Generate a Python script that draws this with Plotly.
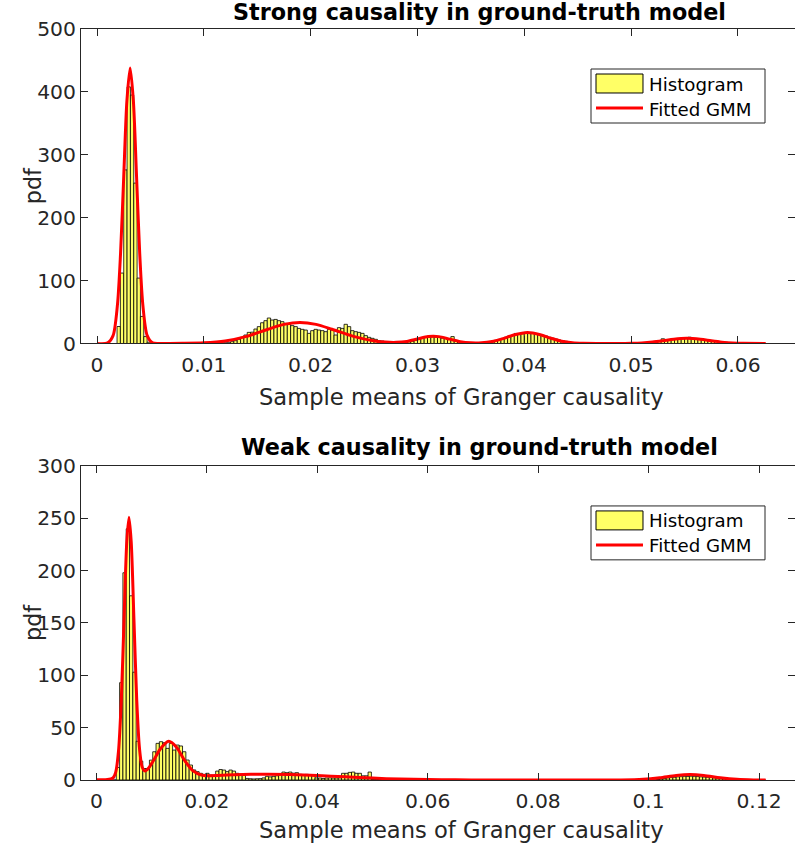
import plotly.graph_objects as go

# ---------------- data ----------------
strong_bin_width = 0.0003125
strong_pdf = ([0] * 6
              + [27, 112, 276, 408, 395, 255, 104, 43, 11, 2]
              + [0] * 17
              + [0.3, 0.5, 0.6, 0.8, 1.0, 1.2, 1.3, 2.9, 4.5, 6.6, 9.8, 13.5, 17.7, 18, 23, 26.8,
                 33, 36.3, 40.5, 37.3, 38.3, 36.3, 34.7, 32, 31, 28.4, 26.8, 24, 22.5, 21.4, 16.1,
                 20.4, 22.5, 21.4, 20.4, 18.8, 22.5, 21.4, 13.5, 25.2, 24, 30.5, 26.8, 20.4, 18.8,
                 17.7, 16.1, 12.5, 9.8, 8.2, 6.6, 4.5, 4, 2.4]
              + [1.5, 1, 1, 0.8, 1, 1.5, 2.5, 3.5, 5, 6.5, 8, 9.5, 10, 10.5, 10, 9.5, 8.5, 8, 7,
                 11, 4, 3, 2, 1.5, 1, 0.8, 0.8, 1, 1.5, 2, 3, 4, 5, 6.5, 8, 10, 12, 13, 16, 15,
                 15.5, 16, 17, 16, 15, 14, 13, 12, 10, 8.5, 7, 5.5, 4.5, 3.5, 2.5, 1.5, 1]
              + [0] * 20
              + [1, 1.5, 2, 3, 3.5, 7.5, 5, 6, 6.5, 7, 7.5, 8, 8, 10, 8, 7.5, 7, 6.5, 5.5, 5, 4,
                 3.5, 3, 2.5, 2, 1.5, 1, 0.8, 0.5, 0.3, 0.2, 0.2, 0.1, 0.1, 0, 0])

strong_curve_x = [0.0, 0.0010, 0.0015, 0.0019, 0.0022, 0.0025, 0.0028, 0.0031, 0.0034, 0.0037,
                  0.0040, 0.0043, 0.0047, 0.0052, 0.0060, 0.0080, 0.0100, 0.0120, 0.0140, 0.0160,
                  0.0175, 0.0190, 0.0205, 0.0220, 0.0240, 0.0260, 0.0270, 0.0280, 0.0290, 0.0300,
                  0.0310, 0.0315, 0.0320, 0.0330, 0.0340, 0.0350, 0.0360, 0.0370, 0.0380, 0.0390,
                  0.0403, 0.0415, 0.0425, 0.0435, 0.0445, 0.0455, 0.0470, 0.0490, 0.0500, 0.0510,
                  0.0520, 0.0530, 0.0540, 0.0552, 0.0565, 0.0575, 0.0585, 0.0595, 0.0605, 0.0626]
strong_curve_y = [0.0, 1.0, 12.5, 59.3, 142, 265.6, 386.5, 438, 386.5, 265.6,
                  142, 59.3, 12.5, 1.0, 0.05, 0.2, 1.0, 4.0, 11.4, 22.7,
                  30.4, 33.5, 30.4, 22.7, 11.4, 4.0, 2.2, 1.8, 3.3, 7.2,
                  11.0, 11.5, 10.9, 7.0, 2.9, 1.0, 1.1, 3.3, 7.7, 13.5,
                  17.5, 14.0, 8.3, 3.6, 1.2, 0.3, 0.05, 0.07, 0.3, 0.9,
                  2.3, 4.5, 6.9, 8.2, 6.6, 4.2, 2.1, 0.8, 0.25, 0.0]

weak_bin_width = 0.0006
weak_pdf = ([0] * 6
            + [12, 93, 198, 240, 176, 103, 37, 18, 11, 11, 19, 27, 35, 36.6, 35.6, 30.2, 35, 28.6,
               33.4, 32.5, 27, 19.1, 14.3, 9.6, 8, 6.4, 5.4, 6.4, 4.8, 4.5, 8.5, 10, 9.5, 8, 9.5,
               8.5, 6.4, 5.5, 4.5, 1.5, 1.2, 1, 1.2, 1.3, 2, 3.5, 3, 3.5, 4, 5, 7.6, 7, 7.6, 6.5,
               7, 5.4, 5, 5.4, 4.5, 4, 2, 1.9, 1.5, 1.9, 2, 1.8, 1.9, 2, 6.4, 6.4, 7.3, 7.6, 6.4,
               6.4, 4, 4, 7.6]
            + [0.4] * 13
            + [0] * 73
            + [0.5, 1, 1.5, 2, 2.3, 2.6, 3, 3.2, 3.5, 3.4, 3.6, 3.5, 3.3, 3, 2.8, 2.6, 2.3, 2,
               1.7, 1.4, 1.1, 0.9, 0.7, 0.5, 0.4, 0.3, 0.2, 0.2]
            + [0] * 5)

weak_curve_x = [0.0, 0.0020, 0.0030, 0.0035, 0.0040, 0.0045, 0.0050, 0.0055, 0.0059, 0.0063,
                0.0068, 0.0073, 0.0078, 0.0083, 0.0088, 0.0095, 0.0105, 0.0115, 0.0131, 0.0145,
                0.0160, 0.0175, 0.0190, 0.0205, 0.0220, 0.0250, 0.0280, 0.0310, 0.0350, 0.0400,
                0.0450, 0.0500, 0.0550, 0.0600, 0.0650, 0.0700, 0.0800, 0.0900, 0.0950, 0.0990,
                0.1020, 0.1050, 0.1075, 0.1100, 0.1130, 0.1160, 0.1190, 0.1212]
weak_curve_y = [0.3, 0.4, 1.9, 7.6, 27.5, 75.2, 152.3, 227.4, 251, 227.7,
                153.3, 77, 30.4, 12.2, 8.6, 11.7, 20, 29.2, 37, 31.4,
                18.5, 8.7, 4.8, 4.1, 4.3, 5.0, 5.4, 5.6, 5.3, 4.3,
                3.0, 1.8, 0.9, 0.4, 0.14, 0.04, 0.0, 0.0, 0.06, 0.7,
                2.2, 4.4, 5.2, 4.4, 2.2, 0.7, 0.12, 0.01]

strong_x_ticks = [0, 0.01, 0.02, 0.03, 0.04, 0.05, 0.06]
strong_y_ticks = [0, 100, 200, 300, 400, 500]
weak_x_ticks = [0, 0.02, 0.04, 0.06, 0.08, 0.1, 0.12]
weak_y_ticks = [0, 50, 100, 150, 200, 250, 300]

titles = ["Strong causality in ground-truth model", "Weak causality in ground-truth model"]
x_label = "Sample means of Granger causality"
y_label = "pdf"
legend_labels = ["Histogram", "Fitted GMM"]

# ---------------- styling ----------------
FONT = "DejaVu Sans"
INK = "#262626"
BAR_FILL = "#FFFF66"
CURVE = "#FF0000"

fig = go.Figure()


def add_panel(pdf, width, cx, cy, xa, ya):
    centers = [(i + 0.5) * width for i in range(len(pdf))]
    fig.add_trace(go.Bar(x=centers, y=pdf, width=width, xaxis=xa, yaxis=ya,
                         marker=dict(color=BAR_FILL, line=dict(color="black", width=0.8)),
                         name=legend_labels[0], showlegend=False, hoverinfo="skip"))
    fig.add_trace(go.Scatter(x=cx, y=cy, xaxis=xa, yaxis=ya, mode="lines",
                             line=dict(color=CURVE, width=3, shape="spline", smoothing=0.8),
                             name=legend_labels[1], showlegend=False, hoverinfo="skip"))


add_panel(strong_pdf, strong_bin_width, strong_curve_x, strong_curve_y, "x", "y")
add_panel(weak_pdf, weak_bin_width, weak_curve_x, weak_curve_y, "x2", "y2")

axis_common = dict(showline=True, linecolor=INK, linewidth=1, mirror="ticks",
                   ticks="inside", ticklen=7, tickcolor=INK, tickwidth=1,
                   showgrid=False, zeroline=False, automargin=False,
                   tickfont=dict(family=FONT, size=20.3, color=INK))

fig.update_layout(
    width=795, height=850,
    margin=dict(l=81, r=0, t=29, b=70),
    paper_bgcolor="white", plot_bgcolor="white",
    barmode="overlay", showlegend=False,
    xaxis=dict(domain=[0, 1], anchor="y", range=[-0.0015, 0.06534], tickvals=strong_x_ticks,
               ticklabelstandoff=3, **axis_common),
    yaxis=dict(domain=[0.58123, 1], anchor="x", range=[0, 500], tickvals=strong_y_ticks,
               **axis_common),
    xaxis2=dict(domain=[0, 1], anchor="y2", range=[-0.00279, 0.12652], tickvals=weak_x_ticks,
                ticklabelstandoff=3, **axis_common),
    yaxis2=dict(domain=[0, 0.41811], anchor="x2", range=[0, 300], tickvals=weak_y_ticks,
                **axis_common),
)

# titles and axis labels
PLOT_W = 714.0
for xa, ya, t, t_y, xl_y in [("x", "y", titles[0], 1.0226, -0.170),
                              ("x2", "y2", titles[1], 0.4434, -0.159)]:
    xr, yr = xa + " domain", ya + " domain"
    fig.add_annotation(text="<b>" + t + "</b>", xref="paper", yref="paper",
                       x=(479 - 81) / PLOT_W, y=t_y,
                       xanchor="center", yanchor="middle", showarrow=False,
                       font=dict(family=FONT, size=22.3, color="black"))
    fig.add_annotation(text=x_label, xref=xr, yref=yr, x=(461 - 81) / PLOT_W, y=xl_y,
                       xanchor="center", yanchor="middle", showarrow=False,
                       font=dict(family=FONT, size=22.6, color=INK))
    fig.add_annotation(text=y_label, xref=xr, yref=yr, x=(33 - 81) / PLOT_W, y=0.5,
                       textangle=-90, xanchor="center", yanchor="middle", showarrow=False,
                       font=dict(family=FONT, size=22.3, color=INK))

# legends drawn as boxes in axis-domain coordinates
for xa, ya in [("x", "y"), ("x2", "y2")]:
    xr, yr = xa + " domain", ya + " domain"
    fig.add_shape(type="rect", xref=xr, yref=yr, x0=0.7143, x1=0.958, y0=0.7011, y1=0.8728,
                  line=dict(color=INK, width=1), fillcolor="white", layer="above")
    fig.add_shape(type="rect", xref=xr, yref=yr, x0=0.7213, x1=0.7871, y0=0.7965, y1=0.8569,
                  line=dict(color="black", width=1), fillcolor=BAR_FILL, layer="above")
    fig.add_shape(type="line", xref=xr, yref=yr, x0=0.7213, x1=0.7871, y0=0.7488, y1=0.7488,
                  line=dict(color=CURVE, width=3), layer="above")
    for label, ly in [(legend_labels[0], 0.8251), (legend_labels[1], 0.7456)]:
        fig.add_annotation(text=label, xref=xr, yref=yr, x=0.7927, y=ly, xanchor="left",
                           yanchor="middle", showarrow=False,
                           font=dict(family=FONT, size=18.2, color="black"))

# the page is photographed from its top-left corner: drop the browser's default body margin
fig.write_html("out.html", config={"displayModeBar": False},
               post_script="document.body.style.margin='0';")
